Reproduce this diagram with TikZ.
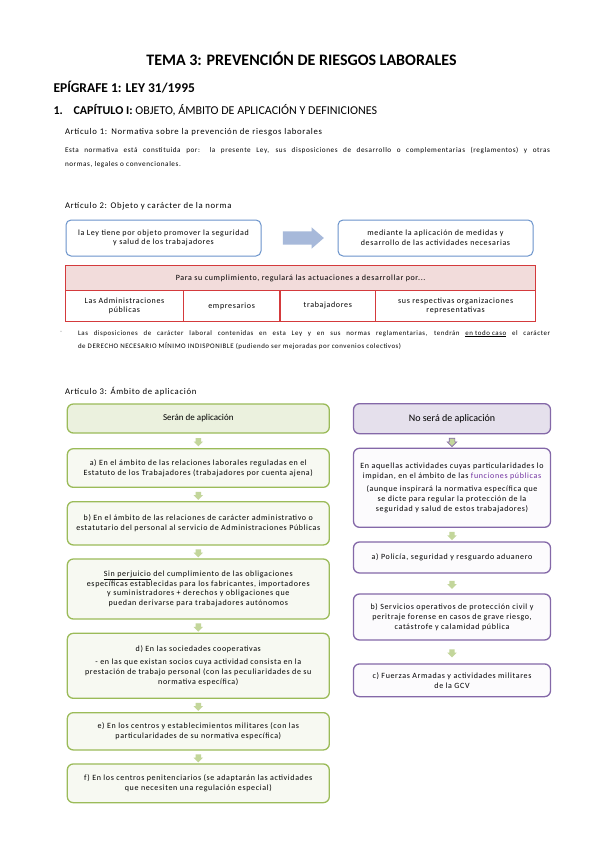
\documentclass[tikz,border=0pt]{standalone}
\usepackage{fontspec}
\setmainfont{Carlito}
\newfontfamily\boxf{Carlito}[LetterSpace=8]
\usetikzlibrary{shapes.arrows,calc}
\definecolor{bbd}{HTML}{6A93CB}
\definecolor{barrow}{HTML}{A7B9DA}
\definecolor{rbd}{HTML}{D43A3C}
\definecolor{rfill}{HTML}{F2DCDB}
\definecolor{gbd}{HTML}{9BBB59}
\definecolor{gfill}{HTML}{F7F9F2}
\definecolor{ghead}{HTML}{EBF1DE}
\definecolor{garrow}{HTML}{C3D69B}
\definecolor{pbd}{HTML}{8468A8}
\definecolor{phead}{HTML}{E5E0EC}
\definecolor{pfill}{HTML}{FCFBFD}
\definecolor{ptext}{HTML}{7030A0}
\begin{document}
\begin{tikzpicture}[x=1pt,y=-1pt,
  txt/.style={inner sep=0pt, outer sep=0pt},
  headf/.style={txt, anchor=base west, font=\boxf\fontsize{8.7}{10}\selectfont},
  bodyf/.style={txt, anchor=base west, font=\boxf\fontsize{7.2}{8.5}\selectfont},
  bulf/.style={txt, anchor=base west, font=\boxf\fontsize{6.9}{8}\selectfont},
  boxtxt/.style={align=center, inner sep=1pt, font=\boxf\fontsize{8}{9.8}\selectfont},
  bbox/.style={boxtxt, draw=bbd, line width=1pt, rounded corners=5pt, fill=white,
    minimum width=195pt, minimum height=36pt},
  bigarrow/.style={single arrow, fill=barrow, draw=none, minimum height=41pt,
    single arrow head extend=4pt, single arrow tip angle=82, inner sep=6.5pt},
  rcell/.style={boxtxt, draw=rbd, line width=1.3pt, anchor=north west, minimum height=30.5pt},
  gbox/.style={boxtxt, draw=gbd, fill=gfill, line width=1.3pt, rounded corners=6pt,
    minimum width=262pt},
  pbox/.style={boxtxt, draw=pbd, fill=pfill, line width=1.3pt, rounded corners=6pt,
    minimum width=197pt},
  garr/.style={single arrow, shape border rotate=270, fill=garrow, draw=none,
    minimum height=7pt, single arrow head extend=2pt, inner sep=2.5pt},
  parr/.style={garr, draw=pbd, line width=0.6pt}
]
\path[fill=white, use as bounding box] (0,0) rectangle (599,848);

% headings
\node[txt, anchor=base, font=\bfseries\fontsize{16}{19}\selectfont] (title) at (301.5,66)
  {TEMA 3: PREVENCIÓN DE RIESGOS LABORALES};
\node[txt, anchor=base west, font=\bfseries\fontsize{13.5}{16}\selectfont] (epi) at (53.5,93)
  {EPÍGRAFE 1: LEY 31/1995};
\node[txt, anchor=base west, font=\fontsize{12}{14}\selectfont] (capn) at (53.5,114) {\textbf{1.}};
\node[txt, anchor=base west, font=\fontsize{12}{14}\selectfont] (cap) at (73.5,114)
  {\textbf{CAPÍTULO I:} OBJETO, ÁMBITO DE APLICACIÓN Y DEFINICIONES};

% Articulo 1
\node[headf] (art1) at (65,135) {\makebox[257pt][s]{Artículo 1: Normativa sobre la prevención de riesgos laborales}};
\node[bodyf] (p1a) at (65,152)
  {\makebox[485pt][s]{Esta normativa está constituida por: la presente Ley, sus disposiciones de desarrollo o complementarias (reglamentos) y otras}};
\node[bodyf] (p1b) at (65,166) {normas, legales o convencionales.};

% Articulo 2
\node[headf] (art2) at (65,208) {Artículo 2: Objeto y carácter de la norma};
\node[bbox] (b1) at (163.5,238) {la Ley tiene por objeto promover la seguridad\\y salud de los trabajadores};
\node[bbox] (b2) at (435.5,238) {mediante la aplicación de medidas y\\desarrollo de las actividades necesarias};
\node[bigarrow] (ba) at ($(b1.east)!0.5!(b2.west)$) {};

% red table
\node[rcell, fill=rfill, minimum width=470pt, minimum height=25pt] (rt) at (65,265)
  {Para su cumplimiento, regulará las actuaciones a desarrollar por...};
\node[rcell, fill=white, minimum width=117.7pt] (c1) at (65,290) {Las Administraciones\\públicas};
\node[rcell, fill=white, minimum width=96.6pt] (c2) at (182.7,290) {empresarios};
\node[rcell, fill=white, minimum width=95.7pt] (c3) at (279.3,290) {trabajadores};
\node[rcell, fill=white, minimum width=160pt] (c4) at (375,290) {sus respectivas organizaciones\\representativas};

% bullet
\node[txt, font=\fontsize{6.5}{8}\selectfont, text=gray] (dash) at (61,332) {-};
\node[bulf] (p2a) at (78,335)
  {\makebox[472pt][s]{Las disposiciones de carácter laboral contenidas en esta Ley y en sus normas reglamentarias, tendrán \underline{en todo caso} el carácter}};
\node[bulf] (p2b) at (78,348)
  {de DERECHO NECESARIO MÍNIMO INDISPONIBLE (pudiendo ser mejoradas por convenios colectivos)};

% Articulo 3
\node[headf] (art3) at (65,394) {Artículo 3: Ámbito de aplicación};

% green column
\node[gbox, fill=ghead, minimum height=29pt, font=\fontsize{9}{11}\selectfont] (g0) at (198.3,418.5) {Serán de aplicación};
\node[gbox, minimum height=38.6pt] (ga) at (198.3,468)
  {a) En el ámbito de las relaciones laborales reguladas en el\\Estatuto de los Trabajadores (trabajadores por cuenta ajena)};
\node[gbox, minimum height=43.3pt] (gb) at (198.3,523.3)
  {b) En el ámbito de las relaciones de carácter administrativo o\\estatutario del personal al servicio de Administraciones Públicas};
\node[gbox, minimum height=60pt] (gc) at (198.3,589)
  {\underline{Sin perjuicio} del cumplimiento de las obligaciones\\específicas establecidas para los fabricantes, importadores\\y suministradores + derechos y obligaciones que\\puedan derivarse para trabajadores autónomos};
\node[gbox, minimum height=65pt] (gd) at (198.3,665.8)
  {d) En las sociedades cooperativas\\[3pt]- en las que existan socios cuya actividad consista en la\\prestación de trabajo personal (con las peculiaridades de su\\normativa específica)};
\node[gbox, minimum height=37.3pt] (ge) at (198.3,731.3)
  {e) En los centros y establecimientos militares (con las\\particularidades de su normativa específica)};
\node[gbox, minimum height=38.7pt] (gf) at (198.3,783.3)
  {f) En los centros penitenciarios (se adaptarán las actividades\\que necesiten una regulación especial)};
\node[garr] (ag1) at ($(g0.south)!0.5!(ga.north)$) {};
\node[garr] (ag2) at ($(ga.south)!0.5!(gb.north)$) {};
\node[garr] (ag3) at ($(gb.south)!0.5!(gc.north)$) {};
\node[garr] (ag4) at ($(gc.south)!0.5!(gd.north)$) {};
\node[garr] (ag5) at ($(gd.south)!0.5!(ge.north)$) {};
\node[garr] (ag6) at ($(ge.south)!0.5!(gf.north)$) {};

% purple column
\node[pbox, fill=phead, minimum height=30pt, font=\fontsize{10}{12}\selectfont] (p0) at (452,418.7) {No será de aplicación};
\node[pbox, minimum height=79pt] (pa) at (452,487.8)
  {En aquellas actividades cuyas particularidades lo\\impidan, en el ámbito de las \textcolor{ptext}{funciones públicas}\\[4pt](aunque inspirará la normativa específica que\\se dicte para regular la protección de la\\seguridad y salud de estos trabajadores)};
\node[pbox, minimum height=31pt] (pb) at (452,557.5) {a) Policía, seguridad y resguardo aduanero};
\node[pbox, minimum height=46pt] (pc) at (452,617)
  {b) Servicios operativos de protección civil y\\peritraje forense en casos de grave riesgo,\\catástrofe y calamidad pública};
\node[pbox, minimum height=32.7pt] (pd) at (452,680.3)
  {c) Fuerzas Armadas y actividades militares\\de la GCV};
\node[parr] (ap1) at ($(p0.south)!0.5!(pa.north)$) {};
\node[garr] (ap2) at ($(pa.south)!0.5!(pb.north)$) {};
\node[garr] (ap3) at ($(pb.south)!0.5!(pc.north)$) {};
\node[garr] (ap4) at ($(pc.south)!0.5!(pd.north)$) {};
\end{tikzpicture}
\end{document}
